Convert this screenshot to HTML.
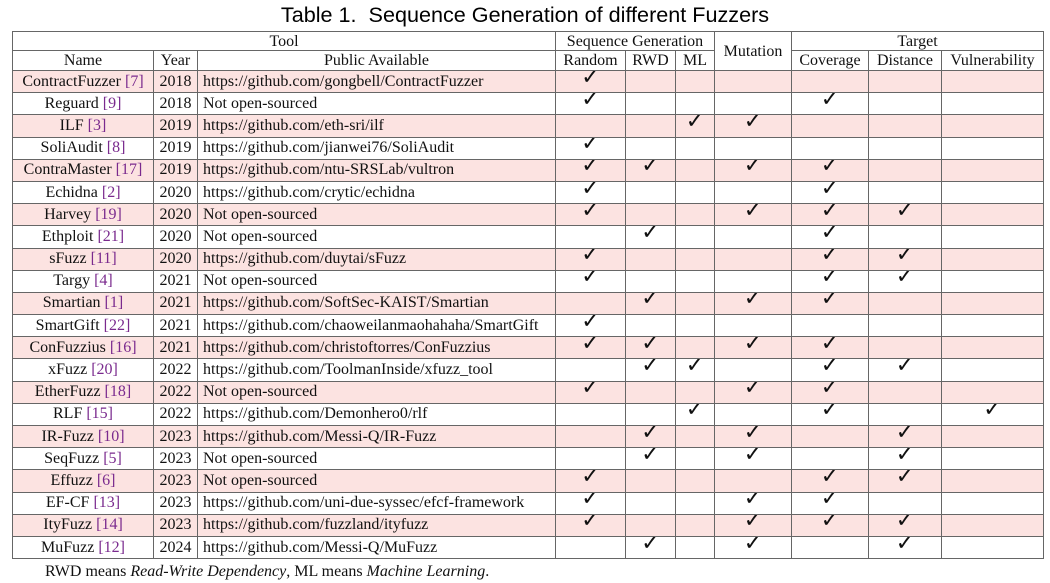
<!DOCTYPE html>
<html><head><meta charset="utf-8"><style>
html,body{margin:0;padding:0;background:#fff;width:1050px;height:583px;overflow:hidden}
.title{position:absolute;left:0;width:1050px;top:2px;text-align:center;font:21.6px "Liberation Sans",sans-serif;color:#000}
table{position:absolute;left:12px;top:31px;border-collapse:collapse;table-layout:fixed;font:16px "Liberation Serif",serif;color:#111}
td{border:1px solid #666;padding:0 5px;height:21.18px;line-height:18px;white-space:nowrap;overflow:hidden;text-align:center;box-sizing:border-box}
tr.d td{height:22.2px}
tr.h1 td{height:19px;line-height:17px}
tr.h2 td{height:20px;line-height:18px}
td.u{text-align:left;font-size:16px}
tr.p td{background:#fce3e1}
.c{color:#7a2a8e}
.k{display:inline-block;height:16px;font:bold 22px "DejaVu Sans",sans-serif;line-height:16px;position:relative;top:-3px;vertical-align:top}
.note{position:absolute;left:45px;top:563px;font:16px "Liberation Serif",serif;color:#111}
</style></head><body>
<div class="title">Table 1.&nbsp; Sequence Generation of different Fuzzers</div>
<table>
<colgroup><col style="width:141px"><col style="width:44px"><col style="width:358px"><col style="width:70px"><col style="width:50px"><col style="width:39px"><col style="width:77px"><col style="width:77px"><col style="width:73px"><col style="width:102px"></colgroup>
<tr class="h1"><td colspan="3">Tool</td><td colspan="3">Sequence Generation</td><td rowspan="2">Mutation</td><td colspan="3">Target</td></tr>
<tr class="h2"><td>Name</td><td>Year</td><td>Public Available</td><td>Random</td><td>RWD</td><td>ML</td><td>Coverage</td><td>Distance</td><td>Vulnerability</td></tr>
<tr class="d p"><td>ContractFuzzer <span class="c">[7]</span></td><td>2018</td><td class="u">https://github.com/gongbell/ContractFuzzer</td><td><span class="k">✓</span></td><td></td><td></td><td></td><td></td><td></td><td></td></tr>
<tr class="d"><td>Reguard <span class="c">[9]</span></td><td>2018</td><td class="u">Not open-sourced</td><td><span class="k">✓</span></td><td></td><td></td><td></td><td><span class="k">✓</span></td><td></td><td></td></tr>
<tr class="d p"><td>ILF <span class="c">[3]</span></td><td>2019</td><td class="u">https://github.com/eth-sri/ilf</td><td></td><td></td><td><span class="k">✓</span></td><td><span class="k">✓</span></td><td></td><td></td><td></td></tr>
<tr class="d"><td>SoliAudit <span class="c">[8]</span></td><td>2019</td><td class="u">https://github.com/jianwei76/SoliAudit</td><td><span class="k">✓</span></td><td></td><td></td><td></td><td></td><td></td><td></td></tr>
<tr class="d p"><td>ContraMaster <span class="c">[17]</span></td><td>2019</td><td class="u">https://github.com/ntu-SRSLab/vultron</td><td><span class="k">✓</span></td><td><span class="k">✓</span></td><td></td><td><span class="k">✓</span></td><td><span class="k">✓</span></td><td></td><td></td></tr>
<tr class="d"><td>Echidna <span class="c">[2]</span></td><td>2020</td><td class="u">https://github.com/crytic/echidna</td><td><span class="k">✓</span></td><td></td><td></td><td></td><td><span class="k">✓</span></td><td></td><td></td></tr>
<tr class="d p"><td>Harvey <span class="c">[19]</span></td><td>2020</td><td class="u">Not open-sourced</td><td><span class="k">✓</span></td><td></td><td></td><td><span class="k">✓</span></td><td><span class="k">✓</span></td><td><span class="k">✓</span></td><td></td></tr>
<tr class="d"><td>Ethploit <span class="c">[21]</span></td><td>2020</td><td class="u">Not open-sourced</td><td></td><td><span class="k">✓</span></td><td></td><td></td><td><span class="k">✓</span></td><td></td><td></td></tr>
<tr class="d p"><td>sFuzz <span class="c">[11]</span></td><td>2020</td><td class="u">https://github.com/duytai/sFuzz</td><td><span class="k">✓</span></td><td></td><td></td><td></td><td><span class="k">✓</span></td><td><span class="k">✓</span></td><td></td></tr>
<tr class="d"><td>Targy <span class="c">[4]</span></td><td>2021</td><td class="u">Not open-sourced</td><td><span class="k">✓</span></td><td></td><td></td><td></td><td><span class="k">✓</span></td><td><span class="k">✓</span></td><td></td></tr>
<tr class="d p"><td>Smartian <span class="c">[1]</span></td><td>2021</td><td class="u">https://github.com/SoftSec-KAIST/Smartian</td><td></td><td><span class="k">✓</span></td><td></td><td><span class="k">✓</span></td><td><span class="k">✓</span></td><td></td><td></td></tr>
<tr class="d"><td>SmartGift <span class="c">[22]</span></td><td>2021</td><td class="u">https://github.com/chaoweilanmaohahaha/SmartGift</td><td><span class="k">✓</span></td><td></td><td></td><td></td><td></td><td></td><td></td></tr>
<tr class="d p"><td>ConFuzzius <span class="c">[16]</span></td><td>2021</td><td class="u">https://github.com/christoftorres/ConFuzzius</td><td><span class="k">✓</span></td><td><span class="k">✓</span></td><td></td><td><span class="k">✓</span></td><td><span class="k">✓</span></td><td></td><td></td></tr>
<tr class="d"><td>xFuzz <span class="c">[20]</span></td><td>2022</td><td class="u">https://github.com/ToolmanInside/xfuzz_tool</td><td></td><td><span class="k">✓</span></td><td><span class="k">✓</span></td><td></td><td><span class="k">✓</span></td><td><span class="k">✓</span></td><td></td></tr>
<tr class="d p"><td>EtherFuzz <span class="c">[18]</span></td><td>2022</td><td class="u">Not open-sourced</td><td><span class="k">✓</span></td><td></td><td></td><td><span class="k">✓</span></td><td><span class="k">✓</span></td><td></td><td></td></tr>
<tr class="d"><td>RLF <span class="c">[15]</span></td><td>2022</td><td class="u">https://github.com/Demonhero0/rlf</td><td></td><td></td><td><span class="k">✓</span></td><td></td><td><span class="k">✓</span></td><td></td><td><span class="k">✓</span></td></tr>
<tr class="d p"><td>IR-Fuzz <span class="c">[10]</span></td><td>2023</td><td class="u">https://github.com/Messi-Q/IR-Fuzz</td><td></td><td><span class="k">✓</span></td><td></td><td><span class="k">✓</span></td><td></td><td><span class="k">✓</span></td><td></td></tr>
<tr class="d"><td>SeqFuzz <span class="c">[5]</span></td><td>2023</td><td class="u">Not open-sourced</td><td></td><td><span class="k">✓</span></td><td></td><td><span class="k">✓</span></td><td></td><td><span class="k">✓</span></td><td></td></tr>
<tr class="d p"><td>Effuzz <span class="c">[6]</span></td><td>2023</td><td class="u">Not open-sourced</td><td><span class="k">✓</span></td><td></td><td></td><td></td><td><span class="k">✓</span></td><td><span class="k">✓</span></td><td></td></tr>
<tr class="d"><td>EF-CF <span class="c">[13]</span></td><td>2023</td><td class="u">https://github.com/uni-due-syssec/efcf-framework</td><td><span class="k">✓</span></td><td></td><td></td><td><span class="k">✓</span></td><td><span class="k">✓</span></td><td></td><td></td></tr>
<tr class="d p"><td>ItyFuzz <span class="c">[14]</span></td><td>2023</td><td class="u">https://github.com/fuzzland/ityfuzz</td><td><span class="k">✓</span></td><td></td><td></td><td><span class="k">✓</span></td><td><span class="k">✓</span></td><td><span class="k">✓</span></td><td></td></tr>
<tr class="d"><td>MuFuzz <span class="c">[12]</span></td><td>2024</td><td class="u">https://github.com/Messi-Q/MuFuzz</td><td></td><td><span class="k">✓</span></td><td></td><td><span class="k">✓</span></td><td></td><td><span class="k">✓</span></td><td></td></tr>
</table>
<div class="note">RWD means <i>Read-Write Dependency</i>, ML means <i>Machine Learning</i>.</div>
</body></html>
